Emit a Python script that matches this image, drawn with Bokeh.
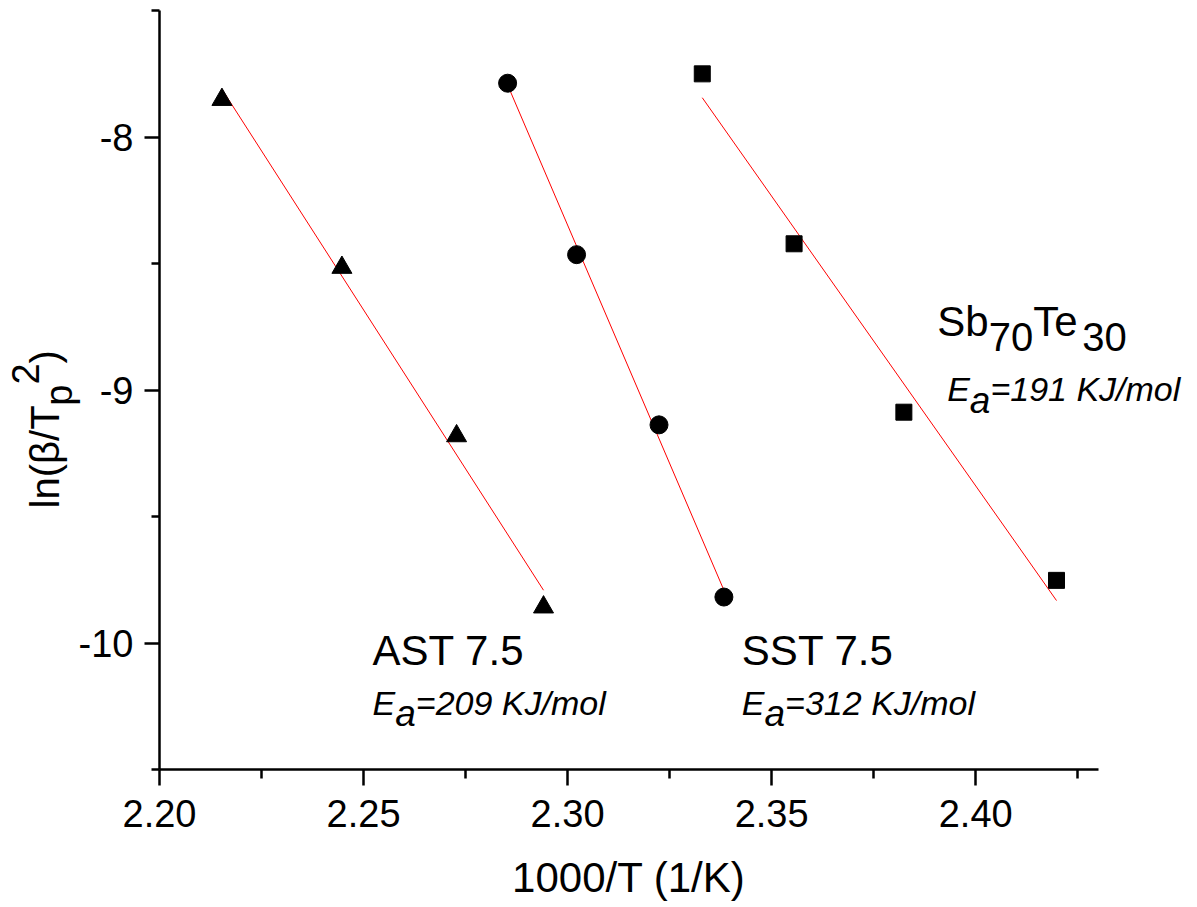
import numpy as np
from bokeh.plotting import figure
from bokeh.models import Label, FixedTicker, PrintfTickFormatter, Range1d
from bokeh.embed import file_html
from bokeh.resources import INLINE

# Kissinger data: 1000/T (1/K) versus ln(beta/Tp^2)
ast_x = [2.2153, 2.2447, 2.2728, 2.2941]
ast_y = [-7.851, -8.515, -9.181, -9.858]

sst_x = [2.2853, 2.3022, 2.3224, 2.3383]
sst_y = [-7.786, -8.464, -9.137, -9.818]

sbte_x = [2.3330, 2.3555, 2.3824, 2.4198]
sbte_y = [-7.749, -8.421, -9.087, -9.752]

x_ticks = [2.20, 2.25, 2.30, 2.35, 2.40]
y_ticks = [-10, -9, -8]

FONT = "Liberation Sans"
X_LIM = (2.20, 2.43)
Y_LIM = (-10.5, -7.5)

# The frame fills the whole canvas and the axes are pinned at X_LIM[0] / Y_LIM[0],
# so titles and labels around the axes are drawn inside the frame.
p = figure(width=1197, height=907, output_backend="svg", toolbar_location=None,
           x_range=Range1d(2.16104, 2.45435), y_range=Range1d(-11.0457, -7.4589),
           min_border=0)
p.outline_line_color = None
p.grid.visible = False
p.background_fill_color = "white"
p.border_fill_color = "white"

# axes: major ticks plus one minor tick between them (inside the axis bounds)
x_step = x_ticks[1] - x_ticks[0]
y_step = y_ticks[1] - y_ticks[0]
x_minor = [t + x_step / 2 for t in x_ticks]
y_minor = [t + y_step / 2 for t in y_ticks] + [y_ticks[0] - y_step / 2]
p.xaxis.ticker = FixedTicker(ticks=x_ticks, minor_ticks=x_minor)
p.yaxis.ticker = FixedTicker(ticks=y_ticks, minor_ticks=y_minor)
p.xaxis.formatter = PrintfTickFormatter(format="%.2f")
p.yaxis.formatter = PrintfTickFormatter(format="%d")
p.xaxis.fixed_location = Y_LIM[0]
p.yaxis.fixed_location = X_LIM[0]
p.xaxis.bounds = X_LIM
p.yaxis.bounds = Y_LIM

for ax in (p.xaxis, p.yaxis):
    ax.axis_line_width = 2.5
    ax.axis_line_color = "black"
    ax.major_tick_line_width = 2.5
    ax.minor_tick_line_width = 2.5
    ax.major_tick_line_color = "black"
    ax.minor_tick_line_color = "black"
    ax.major_tick_in = 0
    ax.minor_tick_in = 0
    ax.major_label_text_font = FONT
    ax.major_label_text_font_size = "38px"
    ax.major_label_text_color = "black"

p.xaxis.major_tick_out = 16
p.xaxis.minor_tick_out = 9
p.xaxis.major_label_standoff = 14
p.yaxis.major_tick_out = 15
p.yaxis.minor_tick_out = 8
p.yaxis.major_label_standoff = 11

# linear fits (red) and data markers
for xs, ys in ((ast_x, ast_y), (sst_x, sst_y), (sbte_x, sbte_y)):
    slope, icpt = np.polyfit(xs, ys, 1)
    fx = np.array([min(xs), max(xs)])
    p.line(fx, slope * fx + icpt, line_color="#ff0000", line_width=1)

p.scatter(ast_x, ast_y, marker="triangle", size=20, color="black")
p.scatter(sst_x, sst_y, marker="circle", size=18, color="black")
p.scatter(sbte_x, sbte_y, marker="square", size=16, color="black")

# Arial/Liberation advance widths (em) for composing runs of text
ADV = {" ": 0.278, "(": 0.333, ")": 0.333, ".": 0.278, "/": 0.278, "=": 0.584,
       "A": 0.667, "E": 0.667, "J": 0.5, "K": 0.667, "S": 0.667, "T": 0.611,
       "a": 0.556, "b": 0.556, "e": 0.556, "l": 0.222, "m": 0.833, "n": 0.556,
       "o": 0.556, "p": 0.556, "\u03b2": 0.57}
# the label anchor sits this fraction of the font size above the text baseline
BASELINE_LIFT = 0.38


def run_width(s, size):
    return sum(ADV.get(c, 0.556) for c in s) * size


def rich_text(x, y, runs, x_off=0.0, y_off=0.0, angle=0.0, align="left"):
    """Place runs of (text, size, baseline shift, style) one after another."""
    adv = 0.0
    for text, size, shift, style in runs:
        lift = shift + BASELINE_LIFT * size
        if angle == 0.0:
            xo, yo = x_off + adv, y_off + lift
        else:
            xo, yo = x_off - lift, y_off + adv
        p.add_layout(Label(x=x, y=y, x_offset=xo, y_offset=yo, text=text,
                           angle=angle, text_font=FONT,
                           text_font_size=f"{size}px", text_font_style=style,
                           text_align=align, text_baseline="alphabetic",
                           text_color="black"))
        adv += run_width(text, size)


# axis titles
rich_text(sum(X_LIM) / 2, -10.990, [("1000/T (1/K)", 42, 0, "normal")], align="center")
rich_text(2.17574, -9.4676, [("ln(\u03b2/T", 40, 0, "normal"), ("p", 38, -13, "normal"),
                             ("2", 38, 21, "normal"), (")", 40, 0, "normal")],
          angle=np.pi / 2)

# sample names and activation energies
rich_text(2.2522, -10.091, [("AST 7.5", 42, 0, "normal")])
rich_text(2.2522, -10.287, [("E", 34, 0, "italic"), ("a", 37, -12, "italic"),
                            ("=209 KJ/mol", 34, 0, "italic")])
rich_text(2.3427, -10.091, [("SST 7.5", 42, 0, "normal")])
rich_text(2.3427, -10.287, [("E", 34, 0, "italic"), ("a", 37, -12, "italic"),
                            ("=312 KJ/mol", 34, 0, "italic")])
rich_text(2.3906, -8.791, [("Sb", 42, 0, "normal"), ("70", 40, -15, "normal"),
                           ("Te", 42, 0, "normal"), ("30", 40, -15, "normal")])
rich_text(2.3930, -9.048, [("E", 34, 0, "italic"), ("a", 37, -12, "italic"),
                           ("=191 KJ/mol", 34, 0, "italic")])

open("out.html", "w").write(file_html(p, INLINE))
